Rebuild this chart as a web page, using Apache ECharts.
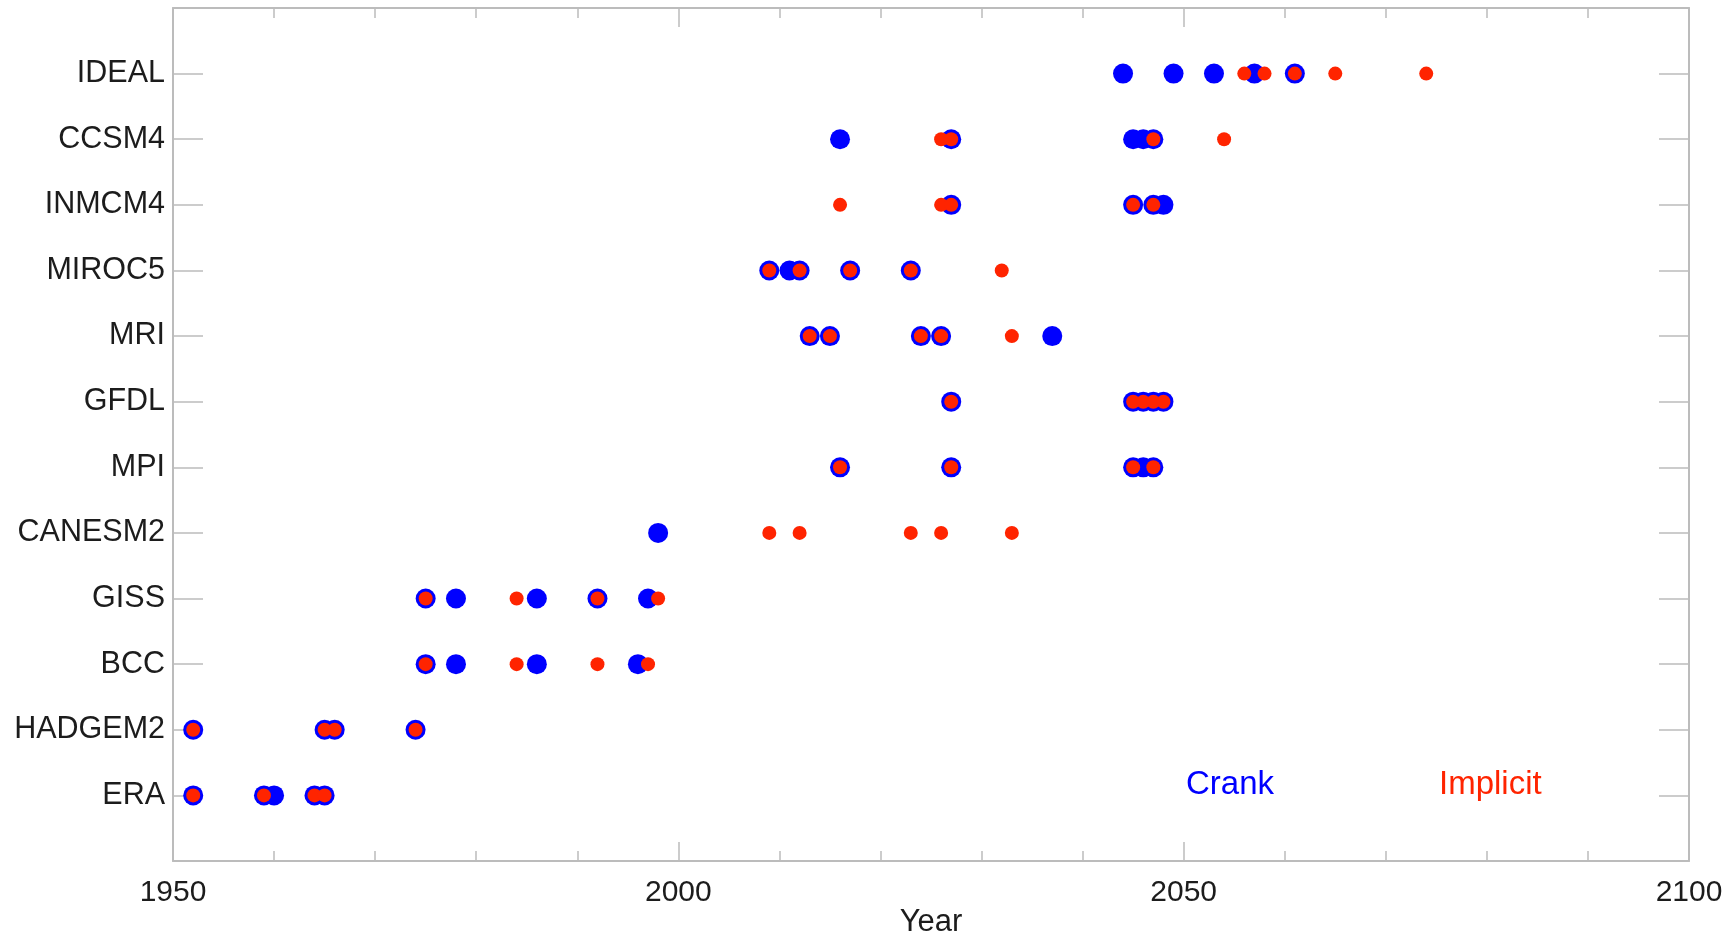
<!DOCTYPE html>
<html>
<head>
<meta charset="utf-8">
<script src="https://cdn.jsdelivr.net/npm/echarts@6/dist/echarts.min.js"></script>
<style>
  html, body { margin: 0; padding: 0; background: #ffffff; }
  #chart { width: 1727px; height: 936px; }
</style>
</head>
<body>
<div id="chart"></div>
<script>
// Models, bottom to top on the vertical axis
const models = ['ERA', 'HADGEM2', 'BCC', 'GISS', 'CANESM2', 'MPI', 'GFDL', 'MRI', 'MIROC5', 'INMCM4', 'CCSM4', 'IDEAL'];

// Years found with the Crank scheme, one list per model (same order as models)
const crankYears = [
  [1952, 1959, 1960, 1964, 1965],
  [1952, 1965, 1966, 1974],
  [1975, 1978, 1986, 1996],
  [1975, 1978, 1986, 1992, 1997],
  [1998],
  [2016, 2027, 2045, 2046, 2047],
  [2027, 2045, 2046, 2047, 2048],
  [2013, 2015, 2024, 2026, 2037],
  [2009, 2011, 2012, 2017, 2023],
  [2027, 2045, 2047, 2048],
  [2016, 2027, 2045, 2046, 2047],
  [2044, 2049, 2053, 2057, 2061]
];

// Years found with the Implicit scheme, one list per model
const implicitYears = [
  [1952, 1959, 1964, 1965],
  [1952, 1965, 1966, 1974],
  [1975, 1984, 1992, 1997],
  [1975, 1984, 1992, 1998],
  [2009, 2012, 2023, 2026, 2033],
  [2016, 2027, 2045, 2047],
  [2027, 2045, 2046, 2047, 2048],
  [2013, 2015, 2024, 2026, 2033],
  [2009, 2012, 2017, 2023, 2032],
  [2016, 2026, 2027, 2045, 2047],
  [2026, 2027, 2047, 2054],
  [2056, 2058, 2061, 2065, 2074]
];

const yearMin = 1950;
const yearMax = 2100;
const yearStep = 50;

function toPoints(lists) {
  const pts = [];
  lists.forEach((years, i) => years.forEach(y => pts.push([y, i])));
  return pts;
}

const FRAME = '#bcbcbc';
const TEXT = '#1c1c1c';
const FONT = '"Liberation Sans", Arial, Helvetica, sans-serif';
const BLUE = '#0000ff';
const RED = '#ff2400';

const chart = echarts.init(document.getElementById('chart'), null, { renderer: 'canvas' });

const xCommon = {
  type: 'value',
  min: yearMin,
  max: yearMax,
  interval: yearStep,
  axisLine: { show: true, onZero: false, lineStyle: { color: FRAME, width: 2 } },
  axisTick: { show: true, inside: true, length: 19, lineStyle: { color: FRAME, width: 1.5 } },
  minorTick: { show: true, splitNumber: 5, length: 10, lineStyle: { color: FRAME, width: 1.5 } },
  splitLine: { show: false }
};

const yCommon = {
  type: 'value',
  min: -1,
  max: models.length,
  interval: 1,
  axisLine: { show: true, onZero: false, lineStyle: { color: FRAME, width: 2 } },
  axisTick: { show: true, inside: true, length: 30, lineStyle: { color: FRAME, width: 1.5 } },
  splitLine: { show: false }
};

chart.setOption({
  backgroundColor: '#ffffff',
  animation: false,
  grid: { left: 173, right: 38, top: 8, bottom: 75, containLabel: false, outerBoundsMode: 'none' },
  xAxis: [
    Object.assign({}, xCommon, {
      position: 'bottom',
      name: 'Year',
      nameLocation: 'middle',
      nameGap: 46,
      nameMoveOverlap: false,
      nameTextStyle: { color: TEXT, fontSize: 31, fontFamily: FONT },
      axisLabel: {
        show: true, margin: 17, color: TEXT, fontSize: 30, fontFamily: FONT,
        formatter: v => String(v)
      }
    }),
    Object.assign({}, xCommon, {
      position: 'top',
      axisLabel: { show: false }
    })
  ],
  yAxis: [
    Object.assign({}, yCommon, {
      position: 'left',
      axisLabel: {
        show: true, margin: 8, color: TEXT, fontSize: 30.5, fontFamily: FONT,
        formatter: v => (v >= 0 && v < models.length) ? models[v] : ''
      }
    }),
    Object.assign({}, yCommon, {
      position: 'right',
      axisLabel: { show: false }
    })
  ],
  series: [
    {
      name: 'Crank',
      type: 'scatter',
      xAxisIndex: 0,
      yAxisIndex: 0,
      symbol: 'circle',
      symbolSize: 20,
      itemStyle: { color: BLUE, opacity: 1 },
      data: toPoints(crankYears),
      z: 2
    },
    {
      name: 'Implicit',
      type: 'scatter',
      xAxisIndex: 0,
      yAxisIndex: 0,
      symbol: 'circle',
      symbolSize: 14,
      itemStyle: { color: RED, opacity: 1 },
      data: toPoints(implicitYears),
      z: 3
    }
  ],
  graphic: [
    {
      type: 'text', left: 1186, top: 768,
      style: { text: 'Crank', fill: BLUE, fontSize: 33, fontFamily: FONT }
    },
    {
      type: 'text', left: 1439, top: 768,
      style: { text: 'Implicit', fill: RED, fontSize: 33, fontFamily: FONT }
    }
  ]
});
</script>
</body>
</html>
